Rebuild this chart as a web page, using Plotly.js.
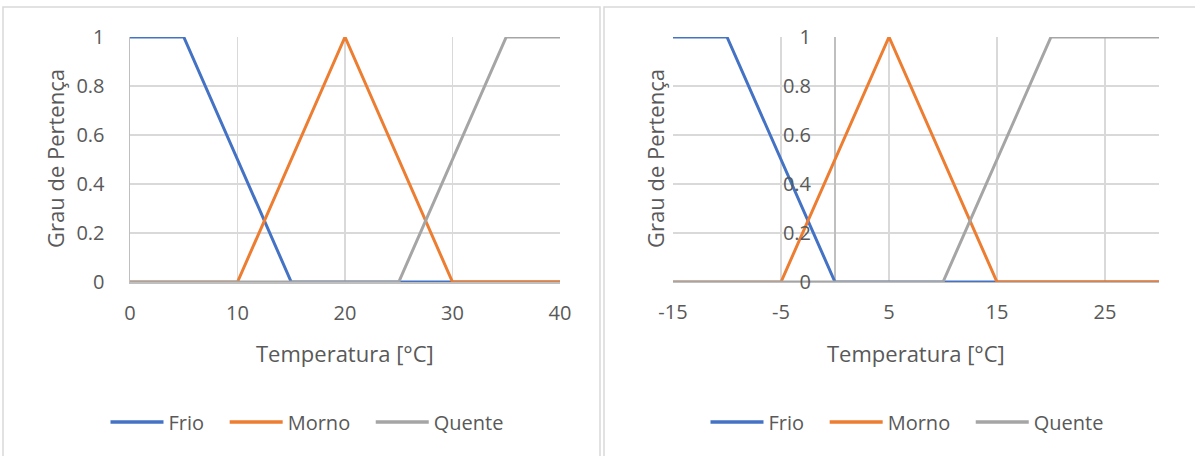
<!DOCTYPE html>
<html>
<head>
<meta charset="utf-8">
<script src="https://cdn.plot.ly/plotly-3.0.1.min.js"></script>
<style>html,body{margin:0;padding:0;background:#fff;}#chart{width:1195px;height:456px;}</style>
</head>
<body>
<div id="chart"></div>
<script>
// Left chart data
const xFrio1 = [0, 5, 15, 40];
const yFrio1 = [1, 1, 0, 0];
const xMorno1 = [0, 10, 20, 30, 40];
const yMorno1 = [0, 0, 1, 0, 0];
const xQuente1 = [0, 25, 35, 40];
const yQuente1 = [0, 0, 1, 1];
const xTicks1 = [0, 10, 20, 30, 40];

// Right chart data
const xFrio2 = [-15, -10, 0, 30];
const yFrio2 = [1, 1, 0, 0];
const xMorno2 = [-15, -5, 5, 15, 30];
const yMorno2 = [0, 0, 1, 0, 0];
const xQuente2 = [-15, 10, 20, 30];
const yQuente2 = [0, 0, 1, 1];
const xTicks2 = [-15, -5, 5, 15, 25];

const yTicks = [0, 0.2, 0.4, 0.6, 0.8, 1];
const yTickText = ['0', '0.2', '0.4', '0.6', '0.8', '1'];
const seriesNames = ['Frio', 'Morno', 'Quente'];
const colors = ['#4472C4', '#ED7D31', '#A5A5A5'];

const W = 1195, H = 456;
const px = v => v / W;
const py = v => 1 - v / H;
const FONT = '"Open Sans", Lato, sans-serif';
const TXT = '#595959';
const PAD = '\u00A0\u00A0\u00A0';

function tr(x, y, i, xa, ya, lg) {
  return {x: x, y: y, name: seriesNames[i] + (i < 2 ? PAD : ''), type: 'scatter', mode: 'lines',
    line: {color: colors[i], width: 3}, xaxis: xa, yaxis: ya, legend: lg, hoverinfo: 'skip'};
}

const data = [
  tr(xFrio1, yFrio1, 0, 'x', 'y', 'legend'),
  tr(xMorno1, yMorno1, 1, 'x', 'y', 'legend'),
  tr(xQuente1, yQuente1, 2, 'x', 'y', 'legend'),
  tr(xFrio2, yFrio2, 0, 'x2', 'y2', 'legend2'),
  tr(xMorno2, yMorno2, 1, 'x2', 'y2', 'legend2'),
  tr(xQuente2, yQuente2, 2, 'x2', 'y2', 'legend2')
];

const tickFont = {family: FONT, size: 20, color: TXT};
const grid = '#d9d9d9';
const axLine = '#bfbfbf';
const LEG_LINE = 53;
const clear = 'rgba(0,0,0,0)';

const legendCommon = {orientation: 'h', xanchor: 'center', yanchor: 'middle',
  font: {family: FONT, size: 20, color: TXT}, bgcolor: clear, itemwidth: LEG_LINE, traceorder: 'normal'};

const layout = {
  width: W, height: H,
  margin: {l: 0, r: 0, t: 0, b: 0},
  paper_bgcolor: '#fff', plot_bgcolor: '#fff',
  showlegend: true,
  xaxis: {domain: [px(130), px(560)], range: [0, 40], tickvals: xTicks1, ticktext: xTicks1.map(String),
    showgrid: true, gridcolor: grid, gridwidth: 1.5, zeroline: false, showline: true, linecolor: axLine, linewidth: 1.5,
    ticks: 'outside', ticklen: 12, tickcolor: clear, tickfont: tickFont, anchor: 'y', fixedrange: true},
  yaxis: {domain: [py(282), py(37)], range: [0, 1], tickvals: yTicks, ticktext: yTickText,
    showgrid: true, gridcolor: grid, gridwidth: 1.5, zeroline: false, showline: true, linecolor: axLine, linewidth: 1.5,
    ticks: 'outside', ticklen: 20, tickcolor: clear, tickfont: tickFont, anchor: 'x', fixedrange: true},
  xaxis2: {domain: [px(673), px(1159)], range: [-15, 30], tickvals: xTicks2, ticktext: xTicks2.map(String),
    showgrid: true, gridcolor: grid, gridwidth: 1.5, zeroline: true, zerolinecolor: axLine, zerolinewidth: 1.5,
    showline: false, ticks: 'outside', ticklen: 12, tickcolor: clear, tickfont: tickFont, anchor: 'y2', fixedrange: true},
  yaxis2: {domain: [py(282), py(37)], range: [0, 1], tickvals: yTicks, ticktext: yTickText,
    showgrid: true, gridcolor: grid, gridwidth: 1.5, zeroline: true, zerolinecolor: axLine, zerolinewidth: 1.5,
    showline: false, ticks: 'outside', ticklen: 21, tickcolor: clear, tickfont: tickFont,
    anchor: 'free', position: px(836), fixedrange: true},
  legend: Object.assign({x: px(307), y: py(422)}, legendCommon),
  legend2: Object.assign({x: px(907), y: py(422)}, legendCommon),
  shapes: [
    {type: 'rect', xref: 'paper', yref: 'paper', x0: px(3), x1: px(600), y0: py(470), y1: py(7), line: {color: '#d9d9d9', width: 1.5}, layer: 'below'},
    {type: 'rect', xref: 'paper', yref: 'paper', x0: px(604), x1: px(1210), y0: py(470), y1: py(7), line: {color: '#d9d9d9', width: 1.5}, layer: 'below'}
  ],
  annotations: [
    {text: 'Temperatura [°C]', xref: 'paper', yref: 'paper', x: px(345), y: py(353), showarrow: false, xanchor: 'center', yanchor: 'middle', font: {family: FONT, size: 22, color: TXT}},
    {text: 'Temperatura [°C]', xref: 'paper', yref: 'paper', x: px(916), y: py(353), showarrow: false, xanchor: 'center', yanchor: 'middle', font: {family: FONT, size: 22, color: TXT}},
    {text: 'Grau de Pertença', xref: 'paper', yref: 'paper', x: px(55), y: py(159), showarrow: false, textangle: -90, xanchor: 'center', yanchor: 'middle', font: {family: FONT, size: 22, color: TXT}},
    {text: 'Grau de Pertença', xref: 'paper', yref: 'paper', x: px(655), y: py(159), showarrow: false, textangle: -90, xanchor: 'center', yanchor: 'middle', font: {family: FONT, size: 22, color: TXT}}
  ]
};

Plotly.newPlot('chart', data, layout, {displayModeBar: false, staticPlot: true}).then(function (gd) {
  // lengthen legend sample lines to match the longer Excel-style legend keys
  gd.querySelectorAll('.legendlines path').forEach(function (p) {
    p.setAttribute('d', 'M5,0h' + LEG_LINE);
    p.style.strokeWidth = '3.5px';
  });
});
</script>
</body>
</html>
